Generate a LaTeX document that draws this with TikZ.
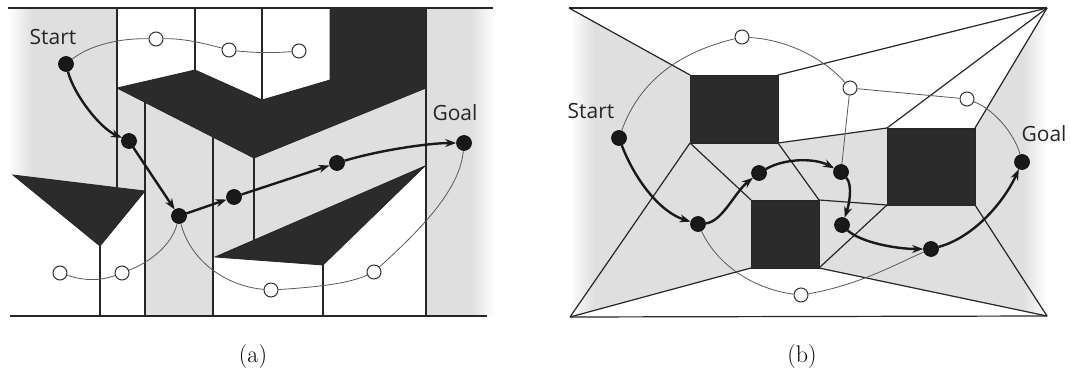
\documentclass[tikz,border=0pt]{standalone}
\usepackage{fontspec}
\newfontfamily\opsans{Open Sans}
\newfontfamily\lmcap{Latin Modern Roman}
\usetikzlibrary{arrows.meta}
\definecolor{gfill}{gray}{0.875}
\definecolor{obcol}{gray}{0.17}
\pgfdeclarehorizontalshading{edgefade}{100bp}{color(0bp)=(white); color(25bp)=(white); color(27.5bp)=(gfill); color(72.5bp)=(gfill); color(75bp)=(white); color(100bp)=(white)}
\tikzset{
  fnode/.style={circle, fill=black!90, draw=black, line width=0.6pt, inner sep=0pt, minimum size=15pt},
  onode/.style={circle, fill=white, draw=black!80, line width=1pt, inner sep=0pt, minimum size=14pt},
  thinedge/.style={draw=black!65, line width=0.8pt},
  thickedge/.style={draw=black!90, line width=2.4pt, -{Stealth[length=11pt,width=8pt]}},
  wall/.style={draw=black!85, line width=1.2pt},
  obst/.style={fill=obcol, draw=black!85, line width=0.8pt},
  lbl/.style={font=\opsans\fontsize{21}{24}\selectfont, text=black!85, inner sep=0pt},
  capt/.style={font=\lmcap\fontsize{15}{18}\selectfont, inner sep=0pt, scale=1.6}
}
\begin{document}
\begin{tikzpicture}[x=1pt,y=-1pt]
\useasboundingbox (0,0) rectangle (1070,377);

% ================= (a) =================
\begin{scope}
\clip (8,8) -- (117,8) -- (117,187) -- (13,175) -- (8,175) -- cycle
  (117,88) -- (145,102) -- (145,191) -- (117,187) -- cycle
  (145,102) -- (213,137) -- (213,316) -- (145,316) -- cycle
  (213,137) -- (254,158) -- (254,240) -- (215,257) -- (213,257) -- cycle
  (254,158) -- (426,88) -- (426,166) -- (254,240) -- cycle
  (426,8) -- (495,8) -- (495,316) -- (426,316) -- cycle;
\shade[shading=edgefade] (8,8) rectangle (495,316);
\end{scope}

% walls (a)
\draw[wall] (8,8) -- (493,8);
\draw[wall] (10,316) -- (487,316);
\draw[wall] (117,8) -- (117,187);
\draw[wall] (195,8) -- (195,70);
\draw[wall] (262,8) -- (262,100);
\draw[wall] (426,8) -- (426,316);
\draw[wall] (145,102) -- (145,316);
\draw[wall] (213,137) -- (213,316);
\draw[wall] (254,158) -- (254,240);
\draw[wall] (100,246) -- (100,316);
\draw[wall] (323,265) -- (323,316);

% obstacles (a)
\draw[obst] (117,88) -- (195,70) -- (262,100) -- (330,80) -- (330,8) -- (426,8) -- (426,88) -- (254,158) -- cycle;
\draw[obst] (13,175) -- (145,191) -- (100,246) -- cycle;
\draw[obst] (215,257) -- (425,166) -- (323,265) -- cycle;

% nodes (a)
\node[fnode] (aS) at (66,64) {};
\node[fnode] (a2) at (129,141) {};
\node[fnode] (a3) at (179,216) {};
\node[fnode] (a4) at (234,197) {};
\node[fnode] (a5) at (337,163) {};
\node[fnode] (aG) at (464,143) {};
\node[onode] (ao1) at (156,39) {};
\node[onode] (ao2) at (229,50) {};
\node[onode] (ao3) at (299,51) {};
\node[onode] (ao4) at (60,273) {};
\node[onode] (ao5) at (122,273) {};
\node[onode] (ao6) at (271,290) {};
\node[onode] (ao7) at (374,272) {};

% thin edges (a)
\draw[thinedge] (aS) .. controls (90,45) and (120,38) .. (ao1);
\draw[thinedge] (ao1) .. controls (185,38) and (210,45) .. (ao2);
\draw[thinedge] (ao2) .. controls (255,53) and (275,53) .. (ao3);
\draw[thinedge] (a3) .. controls (172,245) and (150,262) .. (ao5);
\draw[thinedge] (ao4) .. controls (85,281) and (100,281) .. (ao5);
\draw[thinedge] (a3) .. controls (190,260) and (225,286) .. (ao6);
\draw[thinedge] (ao6) .. controls (320,287) and (350,283) .. (ao7);
\draw[thinedge] (ao7) .. controls (420,230) and (460,190) .. (aG);

% thick edges (a)
\draw[thickedge] (aS) .. controls (74,95) and (100,128) .. (a2);
\draw[thickedge] (a2) -- (a3);
\draw[thickedge] (a3) -- (a4);
\draw[thickedge] (a4) -- (a5);
\draw[thickedge] (a5) .. controls (380,150) and (430,143) .. (aG);

% labels (a)
\node[lbl] (aStart) at (53,37) {Start};
\node[lbl] (aGoal) at (455,113) {Goal};
\node[capt] (capa) at (253,357) {(a)};

% ================= (b) =================
\begin{scope}
\clip (570,8) -- (690,75) -- (690,143) -- (570,317) -- cycle
  (690,143) -- (778,143) -- (819,200) -- (751,200) -- cycle
  (778,143) -- (887,128) -- (887,205) -- (819,200) -- cycle
  (819,200) -- (887,205) -- (819,268) -- cycle
  (887,205) -- (975,205) -- (1047,316) -- (819,268) -- cycle
  (690,143) -- (751,200) -- (751,268) -- (570,317) -- cycle
  (975,128) -- (1047,8) -- (1047,316) -- (975,205) -- cycle;
\shade[shading=edgefade] (570,8) rectangle (1047,317);
\end{scope}

% walls (b)
\draw[wall] (569,8) -- (1047,8);
\draw[wall] (570,317) -- (1047,316);
\draw[wall] (569,8) -- (690,75);
\draw[wall] (778,75) -- (1047,8);
\draw[wall] (887,128) -- (1047,8);
\draw[wall] (975,128) -- (1047,8);
\draw[wall] (975,205) -- (1047,316);
\draw[wall] (887,205) -- (819,268);
\draw[wall] (819,200) -- (887,205);
\draw[wall] (819,268) -- (1047,316);
\draw[wall] (778,143) -- (819,200);
\draw[wall] (690,143) -- (751,200);
\draw[wall] (778,143) -- (887,128);
\draw[wall] (690,143) -- (570,317);
\draw[wall] (751,268) -- (570,317);

% obstacles (b)
\draw[obst] (690,75) rectangle (778,143);
\draw[obst] (887,128) rectangle (975,205);
\draw[obst] (751,200) rectangle (819,268);

% nodes (b)
\node[fnode] (bS) at (619,138) {};
\node[fnode] (b2) at (698,224) {};
\node[fnode] (b3) at (759,173) {};
\node[fnode] (b4) at (841,172) {};
\node[fnode] (b5) at (842,225) {};
\node[fnode] (b6) at (931,249) {};
\node[fnode] (bG) at (1022,162) {};
\node[onode] (bo1) at (742,37) {};
\node[onode] (bo2) at (850,88) {};
\node[onode] (bo3) at (967,99) {};
\node[onode] (bo4) at (801,295) {};

% thin edges (b)
\draw[thinedge] (bS) .. controls (640,80) and (680,52) .. (bo1);
\draw[thinedge] (bo1) .. controls (790,40) and (825,60) .. (bo2);
\draw[thinedge] (bo2) -- (bo3);
\draw[thinedge] (bo3) .. controls (995,110) and (1015,135) .. (bG);
\draw[thinedge] (bo2) -- (b4);
\draw[thinedge] (b2) .. controls (720,270) and (760,290) .. (bo4);
\draw[thinedge] (bo4) .. controls (860,285) and (900,262) .. (b6);

% thick edges (b)
\draw[thickedge] (bS) .. controls (635,180) and (660,212) .. (b2);
\draw[thickedge] (b2) .. controls (722,222) and (735,192) .. (b3);
\draw[thickedge] (b3) .. controls (785,158) and (815,158) .. (b4);
\draw[thickedge] (b4) .. controls (853,185) and (849,205) .. (b5);
\draw[thickedge] (b5) .. controls (860,242) and (895,249) .. (b6);
\draw[thickedge] (b6) .. controls (975,237) and (1005,200) .. (bG);

% labels (b)
\node[lbl] (bStart) at (591,111) {Start};
\node[lbl] (bGoal) at (1044,134) {Goal};
\node[capt] (capb) at (802,357) {(b)};
\end{tikzpicture}
\end{document}
